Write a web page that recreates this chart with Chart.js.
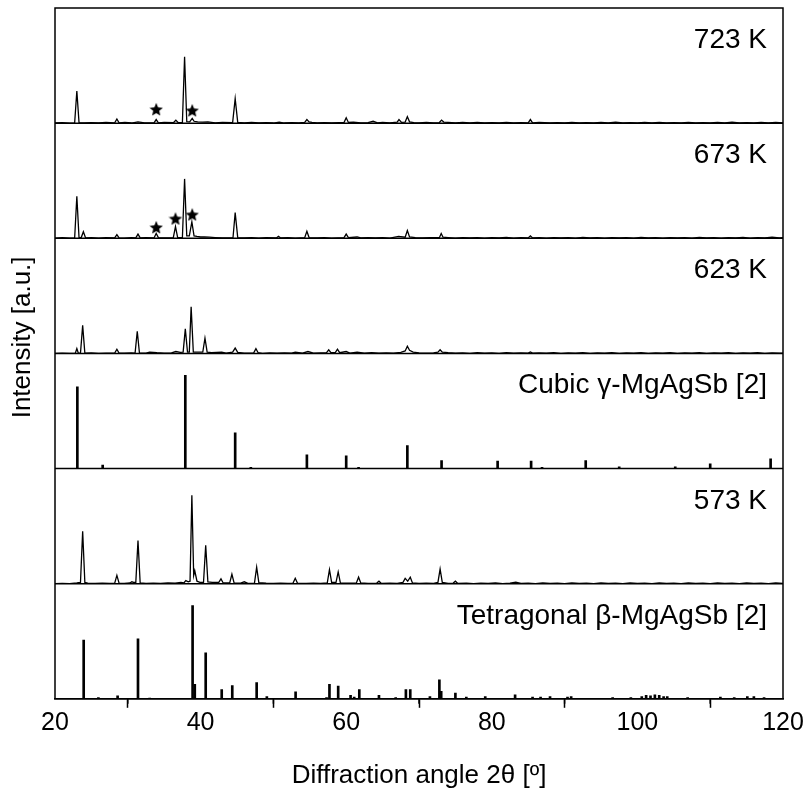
<!DOCTYPE html>
<html><head><meta charset="utf-8">
<script src="https://cdn.jsdelivr.net/npm/chart.js@4.4.0/dist/chart.umd.min.js"></script>
<style>html,body{margin:0;padding:0;background:#fff}#wrap{width:805px;height:796px}</style>
</head><body><div id="wrap"><canvas id="c" width="805" height="796"></canvas></div>
<script>
const FONT = '"Liberation Sans", Arial, Helvetica, sans-serif';

// x axis
const xMajorStep = 20;
const xMinorTicks = [30, 50, 70, 90, 110];
const xTitle = 'Diffraction angle 2θ [º]';
const yTitle = 'Intensity [a.u.]';

// panels, bottom to top
const panelAxes = ['yTet', 'y573', 'yCub', 'y623', 'y673', 'y723'];
const panelLabels = ['Tetragonal β-MgAgSb [2]', '573 K', 'Cubic γ-MgAgSb [2]', '623 K', '673 K', '723 K'];
const measuredAxes = ['y573', 'y623', 'y673', 'y723'];

// measured patterns [2θ, normalised intensity]
const pattern723K = [[20,0.010],[21,0.013],[22,0.009],[22.7,0.012],[23.0,0.285],[23.3,0.013],[24,0.010],[25,0.014],[26,0.010],[27,0.015],[28.2,0.012],[28.5,0.045],[28.8,0.012],[29.6,0.015],[30.5,0.010],[31.4,0.020],[32.3,0.012],[33.6,0.012],[33.9,0.040],[34.2,0.012],[35.0,0.016],[36.3,0.014],[36.6,0.035],[36.9,0.014],[37.5,0.016],[37.8,0.580],[38.1,0.022],[38.5,0.020],[38.85,0.050],[39.1,0.025],[39.6,0.020],[40.3,0.018],[41.0,0.020],[42.0,0.012],[43.0,0.015],[44.4,0.014],[44.75,0.220],[45.1,0.015],[46,0.012],[47,0.015],[48,0.010],[49,0.014],[50,0.010],[50.8,0.018],[51.5,0.010],[52.5,0.014],[53.5,0.012],[54.3,0.015],[54.6,0.040],[54.9,0.020],[55.3,0.015],[56,0.010],[57,0.014],[58,0.010],[59,0.013],[59.7,0.014],[60.0,0.055],[60.3,0.015],[61,0.018],[62,0.012],[63,0.014],[63.7,0.025],[64.3,0.012],[65,0.016],[66,0.012],[67,0.018],[67.25,0.040],[67.6,0.015],[68.1,0.018],[68.4,0.065],[68.7,0.020],[69.3,0.014],[70,0.012],[71,0.016],[72,0.010],[72.8,0.014],[73.1,0.035],[73.4,0.018],[74,0.015],[75,0.010],[76,0.015],[77,0.012],[78,0.016],[79,0.012],[80,0.014],[81,0.010],[82,0.015],[83,0.012],[84,0.014],[85,0.012],[85.3,0.040],[85.6,0.012],[86.5,0.015],[88,0.010],[89,0.014],[90,0.012],[91,0.015],[92,0.010],[93,0.014],[94,0.012],[95,0.016],[96,0.010],[97,0.018],[98,0.012],[99,0.014],[100,0.010],[101,0.015],[102,0.012],[103,0.016],[104,0.010],[105,0.014],[106,0.012],[107,0.015],[108,0.010],[109,0.014],[110,0.012],[111,0.016],[112,0.012],[113,0.018],[114,0.010],[115,0.014],[116,0.012],[117,0.015],[118,0.012],[119,0.016],[120,0.012]];

const pattern673K = [[20,0.010],[21,0.014],[22,0.010],[22.7,0.012],[23.0,0.370],[23.3,0.015],[23.6,0.015],[23.9,0.065],[24.2,0.012],[25,0.014],[26,0.010],[27,0.015],[28.2,0.012],[28.5,0.040],[28.8,0.012],[29.5,0.010],[30.5,0.014],[31.1,0.012],[31.4,0.045],[31.7,0.012],[32.5,0.015],[33.6,0.012],[33.9,0.050],[34.2,0.015],[35,0.012],[36.25,0.015],[36.55,0.110],[36.85,0.015],[37.5,0.015],[37.8,0.520],[38.1,0.030],[38.45,0.030],[38.8,0.150],[39.1,0.030],[39.5,0.025],[40,0.020],[40.5,0.020],[41.2,0.018],[42,0.015],[43,0.012],[44.45,0.014],[44.75,0.230],[45.1,0.015],[46,0.012],[47,0.014],[48,0.010],[49,0.015],[50.4,0.012],[50.7,0.025],[51,0.012],[52,0.014],[53,0.010],[54.3,0.014],[54.6,0.070],[54.9,0.015],[56,0.012],[57,0.014],[58,0.010],[59.7,0.014],[60.0,0.045],[60.3,0.015],[61.5,0.020],[62,0.012],[63,0.015],[64,0.012],[65,0.014],[66,0.010],[67.2,0.025],[68.1,0.018],[68.4,0.075],[68.7,0.020],[69.5,0.014],[70.5,0.012],[71.5,0.015],[72.8,0.014],[73.05,0.050],[73.3,0.018],[74,0.015],[75,0.010],[76,0.014],[77,0.012],[78,0.015],[79,0.010],[80,0.014],[81,0.012],[82,0.016],[83,0.010],[84,0.014],[85,0.012],[85.3,0.030],[85.6,0.012],[86.5,0.014],[87.5,0.010],[88.5,0.015],[89.5,0.012],[90.5,0.014],[91.5,0.010],[92.5,0.016],[93.5,0.012],[94.5,0.014],[95.5,0.010],[96.5,0.015],[97.5,0.012],[98.5,0.014],[99.5,0.010],[100.5,0.016],[101.5,0.012],[102.5,0.014],[103.5,0.010],[104.5,0.015],[105.5,0.012],[106.5,0.014],[107.5,0.010],[108.5,0.016],[109.5,0.012],[110.5,0.015],[111.5,0.010],[112.5,0.014],[113.5,0.012],[114.5,0.016],[115.5,0.010],[116.5,0.014],[117.5,0.012],[118.5,0.018],[119.5,0.012],[120,0.014]];

const pattern623K = [[20,0.010],[21,0.012],[22,0.010],[22.8,0.012],[23.0,0.050],[23.2,0.012],[23.5,0.012],[23.8,0.250],[24.1,0.012],[25,0.014],[26,0.010],[27,0.012],[28.2,0.012],[28.5,0.045],[28.8,0.012],[29.5,0.012],[30.5,0.014],[31.0,0.012],[31.3,0.200],[31.6,0.012],[32.5,0.012],[33.0,0.020],[34.0,0.015],[35,0.012],[36.0,0.014],[36.6,0.025],[37.2,0.018],[37.6,0.020],[37.9,0.220],[38.2,0.020],[38.45,0.020],[38.7,0.410],[39.0,0.020],[39.5,0.020],[40.3,0.020],[40.6,0.140],[40.9,0.020],[41.5,0.015],[42.2,0.018],[42.9,0.020],[43.5,0.012],[44.4,0.020],[44.75,0.055],[45.1,0.018],[46,0.012],[47.3,0.014],[47.6,0.050],[47.9,0.015],[48.5,0.010],[49.5,0.014],[50.5,0.012],[51.5,0.014],[52.5,0.012],[53,0.020],[54,0.012],[54.75,0.025],[55.5,0.012],[56.5,0.014],[57.3,0.015],[57.6,0.040],[57.9,0.015],[58.5,0.015],[58.8,0.045],[59.1,0.015],[60,0.025],[60.5,0.012],[61.5,0.020],[62.5,0.012],[63.5,0.015],[64.5,0.012],[65.5,0.014],[66.5,0.012],[67.5,0.018],[68.1,0.030],[68.4,0.070],[68.7,0.035],[69.2,0.020],[70,0.014],[71,0.012],[72,0.014],[72.6,0.020],[72.9,0.040],[73.2,0.020],[74,0.015],[75,0.012],[76,0.014],[77,0.010],[78,0.015],[79,0.012],[80,0.014],[81,0.010],[82,0.015],[83,0.012],[84,0.014],[85,0.012],[85.3,0.022],[85.6,0.012],[86.5,0.014],[87.5,0.012],[88.5,0.015],[89.5,0.010],[90.5,0.014],[91.5,0.012],[92.5,0.016],[93.5,0.010],[94.5,0.014],[95.5,0.012],[96.5,0.015],[97.5,0.010],[98.5,0.014],[99.5,0.012],[100.5,0.016],[101.5,0.010],[102.5,0.014],[103.5,0.012],[104.5,0.015],[105.5,0.010],[106.5,0.014],[107.5,0.012],[108.5,0.016],[109.5,0.010],[110.5,0.014],[111.5,0.012],[112.5,0.015],[113.5,0.010],[114.5,0.014],[115.5,0.012],[116.5,0.016],[117.5,0.010],[118.5,0.014],[119.5,0.012],[120,0.012]];

const pattern573K = [[20,0.010],[21,0.012],[22,0.010],[23,0.015],[23.5,0.020],[23.8,0.460],[24.1,0.020],[24.5,0.014],[25.5,0.012],[26.5,0.014],[27.5,0.012],[28.2,0.014],[28.5,0.080],[28.8,0.014],[29.5,0.012],[30.3,0.015],[30.55,0.025],[30.8,0.020],[31.1,0.020],[31.4,0.380],[31.7,0.015],[32.5,0.012],[33.5,0.014],[34.5,0.012],[35.5,0.015],[36.5,0.014],[37.3,0.020],[37.7,0.015],[37.97,0.035],[38.3,0.025],[38.55,0.030],[38.8,0.770],[39.05,0.080],[39.2,0.120],[39.5,0.030],[39.9,0.020],[40.4,0.020],[40.7,0.340],[41.0,0.025],[41.6,0.020],[42.5,0.020],[42.8,0.050],[43.1,0.015],[44.0,0.015],[44.3,0.090],[44.6,0.015],[45.5,0.014],[46.0,0.025],[46.5,0.012],[47.4,0.014],[47.7,0.150],[48.0,0.018],[49,0.014],[50,0.012],[51,0.014],[52,0.012],[52.7,0.014],[53.0,0.055],[53.3,0.014],[54.5,0.012],[55.5,0.014],[56.5,0.012],[57.4,0.015],[57.7,0.130],[58.0,0.020],[58.6,0.020],[58.9,0.110],[59.2,0.015],[60.3,0.014],[61.4,0.015],[61.7,0.065],[62.0,0.015],[63,0.012],[64.2,0.014],[64.5,0.030],[64.8,0.012],[66,0.014],[67,0.012],[67.8,0.020],[68.1,0.055],[68.45,0.030],[68.8,0.065],[69.1,0.015],[70,0.012],[71,0.014],[72,0.012],[72.6,0.020],[72.9,0.135],[73.2,0.020],[74,0.012],[74.7,0.014],[75.0,0.030],[75.3,0.012],[76.5,0.014],[77.5,0.010],[78.5,0.014],[79.5,0.012],[80.5,0.015],[81.5,0.010],[82.5,0.014],[83.3,0.022],[84,0.012],[85,0.014],[86,0.010],[87,0.015],[88,0.012],[89,0.014],[90,0.010],[91,0.016],[92,0.012],[93,0.014],[94,0.010],[95,0.015],[96,0.012],[97,0.014],[98,0.010],[99,0.016],[100,0.012],[101,0.014],[102,0.010],[103,0.015],[104,0.012],[105,0.014],[106,0.010],[107,0.016],[108,0.012],[109,0.014],[110,0.010],[111,0.015],[112,0.012],[113,0.014],[114,0.010],[115,0.016],[116,0.012],[117,0.014],[118,0.010],[119,0.015],[120,0.012]];

// reference stick patterns [2θ, relative intensity]
const cubicSticks = [[23.07,0.71],[26.55,0.03],[37.9,0.81],[44.75,0.31],[46.9,0.01],[54.6,0.12],[60.0,0.11],[61.7,0.01],[68.4,0.20],[73.1,0.07],[80.8,0.065],[85.4,0.065],[86.9,0.01],[92.9,0.07],[97.5,0.015],[105.2,0.015],[110.0,0.04],[118.3,0.085]];
const tetragonalSticks = [[23.94,0.51],[25.96,0.01],[28.6,0.025],[31.4,0.52],[33.0,0.006],[38.9,0.81],[39.2,0.125],[40.7,0.40],[42.9,0.08],[44.35,0.115],[47.7,0.14],[49.1,0.02],[53.05,0.06],[57.3,0.01],[57.7,0.125],[58.9,0.11],[60.6,0.03],[61.1,0.015],[61.8,0.08],[64.5,0.03],[66.8,0.01],[68.2,0.08],[68.8,0.08],[71.5,0.02],[72.8,0.165],[73.05,0.065],[75.0,0.05],[76.5,0.015],[79.1,0.02],[83.2,0.035],[85.6,0.015],[86.7,0.015],[88.0,0.02],[90.4,0.015],[90.9,0.02],[96.6,0.01],[99.1,0.01],[100.6,0.02],[101.2,0.03],[101.8,0.025],[102.4,0.035],[103.0,0.03],[103.6,0.02],[104.1,0.02],[106.9,0.01],[111.4,0.015],[113.3,0.01],[115.1,0.02],[116.0,0.02],[117.4,0.01]];

// star markers (impurity peaks)
const stars723K = [[33.9,0.13],[38.85,0.12]];
const stars673K = [[33.9,0.105],[36.55,0.18],[38.85,0.215]];

function pts(arr){ return arr.map(([x,y]) => ({x, y})); }

function makeStar(size){
  const c = document.createElement('canvas'); c.width = c.height = size;
  const g = c.getContext('2d');
  const cx = size/2, cy = size/2 + size*0.06, R = size/2, r = R*0.45;
  g.beginPath();
  for (let i = 0; i < 10; i++){
    const a = -Math.PI/2 + i*Math.PI/5, rad = i%2 ? r : R;
    g.lineTo(cx + rad*Math.cos(a), cy + rad*Math.sin(a));
  }
  g.closePath(); g.fillStyle = '#000'; g.fill();
  return c;
}
const starImg = makeStar(14);

function lineDS(data, axis){
  return {type:'line', data: pts(data), yAxisID: axis, borderColor:'#000', borderWidth:1.3, pointRadius:0, tension:0, fill:false};
}
function stickDS(data, axis){
  return {type:'bar', data: pts(data), yAxisID: axis, backgroundColor:'#000', borderWidth:0, barThickness:2, grouped:false};
}
function starDS(data, axis){
  return {type:'scatter', data: pts(data), yAxisID: axis, pointStyle: starImg, pointRadius:7, showLine:false};
}

const scales = {
  x: {
    type:'linear', position:'bottom', min:20, max:120, offset:false,
    ticks:{stepSize:xMajorStep, color:'#000', font:{family:FONT, size:25}, padding:0, maxRotation:0, autoSkip:false},
    grid:{display:true, drawOnChartArea:false, drawTicks:true, tickLength:9, tickWidth:1.5, tickColor:'#000', color:'#000'},
    border:{display:true, color:'#000', width:1.5},
    title:{display:true, text:xTitle, color:'#000', font:{family:FONT, size:26}, padding:{top:22, bottom:0}}
  }
};
panelAxes.forEach(id => {
  scales[id] = {type:'linear', position:'left', stack:'panels', stackWeight:1,
    min: measuredAxes.includes(id) ? 0.009 : 0, max:1, offset:false,
    ticks:{display:false}, grid:{display:false, drawTicks:false}, border:{display:false}, title:{display:false}};
});

const framePlugin = {
  id:'frame',
  afterDatasetsDraw(chart){
    const {ctx, chartArea:a, scales:s} = chart;
    ctx.save();
    ctx.strokeStyle = '#000'; ctx.lineWidth = 1.5;
    ctx.strokeRect(a.left, a.top, a.right - a.left, a.bottom - a.top);
    ctx.beginPath();
    panelAxes.forEach(id => {
      const sc = s[id];
      if (sc.bottom < a.bottom - 1){ ctx.moveTo(a.left, sc.bottom); ctx.lineTo(a.right, sc.bottom); }
    });
    xMinorTicks.forEach(v => { const px = s.x.getPixelForValue(v); ctx.moveTo(px, a.bottom); ctx.lineTo(px, a.bottom + 5); });
    ctx.stroke();
    ctx.fillStyle = '#000'; ctx.font = '28px ' + FONT; ctx.textAlign = 'right'; ctx.textBaseline = 'alphabetic';
    panelAxes.forEach((id, i) => { ctx.fillText(panelLabels[i], a.right - 16, s[id].top + 40); });
    ctx.translate(23, (a.top + a.bottom)/2 - 16); ctx.rotate(-Math.PI/2);
    ctx.textAlign = 'center'; ctx.textBaseline = 'middle'; ctx.font = '26px ' + FONT;
    ctx.fillText(yTitle, 0, 0);
    ctx.restore();
  }
};

new Chart(document.getElementById('c'), {
  type:'line',
  data:{datasets:[
    lineDS(pattern723K,'y723'), starDS(stars723K,'y723'),
    lineDS(pattern673K,'y673'), starDS(stars673K,'y673'),
    lineDS(pattern623K,'y623'),
    stickDS(cubicSticks,'yCub'),
    lineDS(pattern573K,'y573'),
    stickDS(tetragonalSticks,'yTet')
  ]},
  options:{
    responsive:false, animation:false, devicePixelRatio:1,
    layout:{padding:{left:55, right:22, top:5, bottom:5}},
    plugins:{legend:{display:false}, tooltip:{enabled:false}},
    scales
  },
  plugins:[framePlugin]
});
</script></body></html>
